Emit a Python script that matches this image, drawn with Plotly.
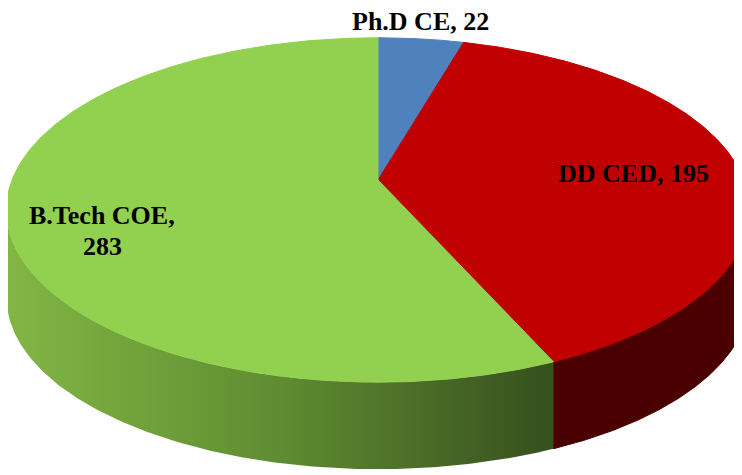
import numpy as np
import plotly.graph_objects as go

# ---- data ----
labels = ["Ph.D CE", "DD CED", "B.Tech COE"]
values = [22, 195, 283]

# ---- styles ----
top_colors = ["#4f81bd", "#c00000", "#92d050"]
side_fills = [
    dict(color="#2c4d75"),
    dict(color="#4b0000"),
    dict(grad=[[0, "#82b644"], [0.5, "#5f8c31"], [1, "#36501e"]]),
]
CX, CY = 378.0, 180.0      # pie centre (pixels)
A, B = 366.0, 167.0        # horizontal / vertical radius
P = 0.174                  # perspective strength
D = 87.0                   # thickness of the pie

W, H = 742, 475
OFF = 8  # page body margin


def proj(theta_deg):
    t = np.radians(theta_deg)
    u = np.sin(t)
    v = -np.cos(t)
    w = 1 - P * v
    return CX + A * u / w, CY + B * v / w


total = float(sum(values))
angles = np.cumsum([0] + [v / total * 360.0 for v in values])

fig = go.Figure()

# visible front range of the side wall
th_r = np.degrees(np.arccos(-P))
th_l = 360.0 - th_r

# side walls first
for i, lab in enumerate(labels):
    t1, t2 = angles[i], angles[i + 1]
    a1, a2 = max(t1, th_r), min(t2, th_l)
    if a2 <= a1:
        continue
    th = np.linspace(a1, a2, 200)
    xt, yt = proj(th)
    xs = np.concatenate([xt, xt[::-1]])
    ys = np.concatenate([yt, (yt + D)[::-1]])
    sf = side_fills[i]
    kw = dict(x=xs, y=ys, mode="lines", fill="toself", hoverinfo="skip",
              showlegend=False)
    if "grad" in sf:
        kw["fillgradient"] = dict(type="horizontal", colorscale=sf["grad"])
        kw["line"] = dict(width=0, color="rgba(0,0,0,0)")
    else:
        kw["fillcolor"] = sf["color"]
        kw["line"] = dict(width=1, color=sf["color"])
    fig.add_trace(go.Scatter(**kw))

# top faces
for i, lab in enumerate(labels):
    th = np.linspace(angles[i], angles[i + 1], 300)
    xt, yt = proj(th)
    xs = np.concatenate([[CX], xt, [CX]])
    ys = np.concatenate([[CY], yt, [CY]])
    fig.add_trace(go.Scatter(x=xs, y=ys, mode="lines", fill="toself",
                             fillcolor=top_colors[i],
                             line=dict(width=1, color=top_colors[i]),
                             hoverinfo="skip", showlegend=False))

font = dict(family="Liberation Serif", size=26, color="black")
label_pos = [(420, 21), (633, 173), (102, 215)]
for i, lab in enumerate(labels):
    x, y = label_pos[i]
    if i == 2:
        fig.add_annotation(x=x, y=y, text=f"<b>{lab},</b>", showarrow=False,
                           font=font, xanchor="center", yanchor="middle")
        fig.add_annotation(x=x, y=y + 31, text=f"<b>{values[i]}</b>",
                           showarrow=False, font=font, xanchor="center",
                           yanchor="middle")
    else:
        fig.add_annotation(x=x, y=y, text=f"<b>{lab}, {values[i]}</b>",
                           showarrow=False, font=font, xanchor="center",
                           yanchor="middle")

fig.update_layout(
    width=W, height=H, autosize=False,
    margin=dict(l=0, r=0, t=0, b=0),
    paper_bgcolor="white", plot_bgcolor="white",
    xaxis=dict(range=[OFF, W + OFF], visible=False, fixedrange=True),
    yaxis=dict(range=[H + OFF, OFF], visible=False, fixedrange=True),
)

fig.write_html("out.html")
